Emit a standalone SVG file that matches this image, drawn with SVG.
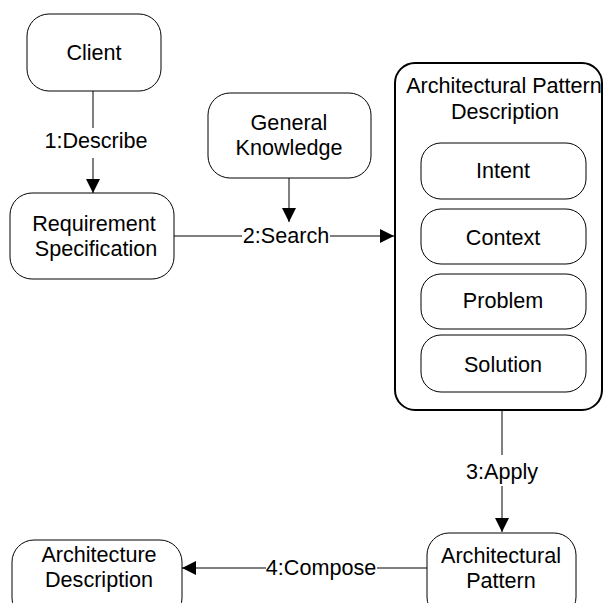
<svg xmlns="http://www.w3.org/2000/svg" width="603" height="603" viewBox="0 0 603 603">
<defs>
<marker id="arr" markerWidth="14" markerHeight="14" refX="14" refY="7" orient="auto" markerUnits="userSpaceOnUse">
<path d="M0,0 L14,7 L0,14 Z" fill="#000"/>
</marker>
<style>
.box{fill:#fff;stroke:#000;stroke-width:1}
.big{fill:#fff;stroke:#000;stroke-width:2}
.t{font-family:"Liberation Sans",Arial,sans-serif;font-size:21.6px;fill:#000;text-anchor:middle}
.c{stroke:#000;stroke-width:1;fill:none}
</style>
</defs>
<rect width="603" height="603" fill="#fff"/>
<g id="connectors">
<line class="c" x1="93" y1="91" x2="93" y2="128"/>
<line class="c" x1="93" y1="158" x2="93" y2="193" marker-end="url(#arr)"/>
<text class="t" x="96" y="148">1:Describe</text>
<line class="c" x1="289" y1="178" x2="289" y2="222" marker-end="url(#arr)"/>
<line class="c" x1="174" y1="236" x2="242" y2="236"/>
<line class="c" x1="330" y1="236" x2="394" y2="236" marker-end="url(#arr)"/>
<text class="t" x="286" y="243">2:Search</text>
<line class="c" x1="502" y1="410" x2="502" y2="455"/>
<line class="c" x1="502" y1="486" x2="502" y2="532" marker-end="url(#arr)"/>
<text class="t" x="502" y="479">3:Apply</text>
<line class="c" x1="427" y1="568" x2="377" y2="568"/>
<line class="c" x1="266" y1="568" x2="182" y2="568" marker-end="url(#arr)"/>
<text class="t" x="321" y="575">4:Compose</text>
</g>
<g id="client">
<rect class="box" x="27" y="14" width="134" height="77" rx="22"/>
<text class="t" x="94" y="60">Client</text>
</g>
<g id="requirement">
<rect class="box" x="10" y="193" width="164" height="86" rx="22"/>
<text class="t" x="94" y="231">Requirement</text>
<text class="t" x="96" y="256">Specification</text>
</g>
<g id="general">
<rect class="box" x="208" y="93" width="163" height="85" rx="22"/>
<text class="t" x="289" y="130">General</text>
<text class="t" x="289" y="155">Knowledge</text>
</g>
<g id="apd">
<rect class="big" x="395" y="63" width="207" height="347" rx="20"/>
<text class="t" x="504" y="93">Architectural Pattern</text>
<text class="t" x="505" y="119">Description</text>
<g id="intent">
<rect class="box" x="421" y="143" width="165" height="56" rx="20"/>
<text class="t" x="503" y="178">Intent</text>
</g>
<g id="context">
<rect class="box" x="421" y="209" width="165" height="55" rx="20"/>
<text class="t" x="503" y="245">Context</text>
</g>
<g id="problem">
<rect class="box" x="421" y="274" width="165" height="55" rx="20"/>
<text class="t" x="503" y="308">Problem</text>
</g>
<g id="solution">
<rect class="box" x="421" y="335" width="165" height="57" rx="20"/>
<text class="t" x="503" y="372">Solution</text>
</g>
</g>
<g id="pattern">
<rect class="box" x="427" y="533" width="149" height="86" rx="22"/>
<text class="t" x="501" y="563">Architectural</text>
<text class="t" x="501" y="588">Pattern</text>
</g>
<g id="archdesc">
<rect class="box" x="12" y="540" width="170" height="80" rx="22"/>
<text class="t" x="99" y="562">Architecture</text>
<text class="t" x="99" y="587">Description</text>
</g>
</svg>
